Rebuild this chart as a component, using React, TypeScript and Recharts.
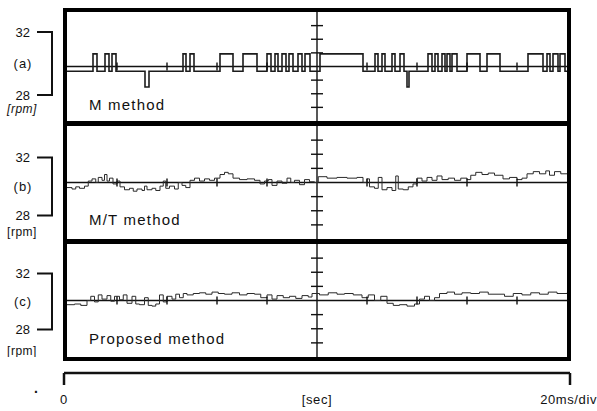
import React from "react";
import { ComposedChart, Line, ReferenceLine, Scatter, XAxis, YAxis } from "recharts";

const FONT = '"Liberation Sans", Arial, Helvetica, sans-serif';
const INK = "#111";

// time base: 10 divisions of 20 ms
const timeDomain: [number, number] = [0, 200];
const divisionMarks = [20, 40, 60, 80, 120, 140, 160, 180];
const gratSteps = [-3, -2, -1, 1, 2, 3];
const rpmTicks = [28, 30, 32];
const timeAxisTicks = [0, 100, 200];
const timeAxisLabels = ["0", "[sec]", "20ms/div"];
const panelLabels = ["(a)", "(b)", "(c)"];
const methodNames = ["M method", "M/T method", "Proposed method"];

// (a) M method
const mTime = [
  0, 10.4, 12, 15.2, 16.8, 18, 19.6, 31.2,
  32.8, 46.4, 47.6, 49.2, 50.8, 61.2, 66.4, 70.4,
  76, 80, 81.6, 83.2, 84.4, 86, 87.6, 88.8,
  90.4, 92.4, 94, 95.2, 97.2, 101.2, 118.4, 123.2,
  124.4, 126, 127.2, 130, 131.2, 133.2, 134.8, 136,
  136.8, 144.4, 146, 147.2, 148.4, 150, 151.2, 152,
  153.2, 154, 156, 160, 165.2, 168, 173.2, 184.4,
  190.4, 192, 193.2, 194.4, 196.4, 197.2, 199.2, 200,
];
const mRpm = [
  29.7, 30.8, 29.7, 30.8, 29.7, 30.8, 29.7, 28.7,
  29.7, 30.8, 29.7, 30.8, 29.7, 30.8, 29.7, 30.8,
  29.7, 30.8, 29.7, 30.8, 29.7, 30.8, 29.7, 30.8,
  29.7, 30.8, 29.7, 30.8, 29.7, 30.8, 29.7, 30.8,
  29.7, 30.8, 29.7, 30.8, 29.7, 30.8, 29.7, 28.7,
  29.7, 30.8, 29.7, 30.8, 29.7, 30.8, 29.7, 30.8,
  29.7, 30.8, 29.7, 30.8, 29.7, 30.8, 29.7, 30.8,
  29.7, 30.8, 29.7, 30.8, 29.7, 30.8, 29.7, 29.7,
];

// (b) M/T method
const mtTime = [
  0, 2, 3.5, 5, 7, 8.5, 10, 11.5, 12.5, 14,
  15, 16, 17, 18.4, 20, 21.2, 23, 25, 26.5, 28,
  30, 31, 32, 34, 35.5, 37.2, 38.5, 39.5, 41, 43,
  44.5, 46, 47.5, 49.2, 51, 53, 55, 57, 59, 61.2,
  63, 64.5, 66.4, 69, 72, 75, 77.2, 79, 80.5, 82,
  84, 86, 88, 89.5, 91, 93, 95, 97, 99, 100.5,
  104, 108, 112, 116, 118.4, 120, 121, 123, 124.5, 126,
  128, 130, 131.5, 132.5, 134.5, 136.5, 138.4, 140, 142, 144,
  146, 148, 150, 152.5, 155, 157.5, 160, 161.5, 163.5, 166,
  168.5, 171, 174.4, 177, 180, 182, 184, 186.5, 189, 191.5,
  193, 195, 197.5, 200,
];
const mtRpm = [
  29.65, 29.55, 29.7, 29.6, 29.75, 30.1, 30.25, 30.0, 30.35, 30.15,
  30.55, 30.1, 30.3, 29.9, 30.1, 29.7, 29.5, 29.6, 29.4, 29.55,
  29.45, 29.75, 29.5, 29.6, 29.45, 29.75, 30.1, 29.6, 29.75, 29.55,
  30.0, 29.8, 29.65, 30.15, 30.3, 30.1, 30.25, 30.15, 30.3, 30.55,
  30.7, 30.6, 30.3, 30.2, 30.25, 30.15, 29.9, 30.1, 30.2, 29.8,
  30.1, 29.95, 30.3, 30.0, 30.15, 29.85, 30.2, 30.05, 30.0, 30.4,
  30.3, 30.35, 30.3, 30.35, 30.0, 30.25, 29.7, 29.6, 30.35, 29.5,
  29.65, 29.45, 30.45, 29.55, 29.5, 29.7, 29.9, 30.3, 30.1, 30.35,
  30.15, 30.45, 30.2, 30.3, 30.15, 30.3, 30.2, 30.5, 30.7, 30.55,
  30.65, 30.5, 30.25, 30.35, 30.2, 30.3, 30.6, 30.75, 30.6, 30.8,
  30.5, 30.75, 30.6, 30.6,
];

// (c) Proposed method
const pTime = [
  0, 3, 5.5, 8, 9.5, 11, 12.5, 14, 16, 17.5,
  19, 21, 22.5, 24, 26, 27.5, 29, 31, 32.5, 34,
  35.5, 37, 38.5, 40, 42, 43.5, 45, 46.5, 48, 50.5,
  53, 55.5, 58, 60.5, 63, 66, 69, 72, 75, 77.5,
  80, 82, 84, 86.5, 89, 91.5, 94, 96.5, 98, 101,
  104.5, 108, 111, 114.5, 118, 120.5, 123, 125.5, 128, 130.5,
  133, 136, 139, 141, 143, 145, 147, 149, 152, 155,
  158, 161.5, 165, 168.5, 172, 175, 178.5, 182, 185.5, 189,
  192.5, 196, 200,
];
const pRpm = [
  29.7, 29.75, 29.65, 30.0, 30.3, 29.9, 30.4, 30.1, 30.35, 29.95,
  30.3, 30.05, 30.4, 29.8, 30.3, 29.75, 29.7, 30.2, 29.65, 29.6,
  29.75, 30.4, 29.9, 30.3, 30.1, 30.45, 30.2, 30.5, 30.4, 30.5,
  30.55, 30.45, 30.6, 30.5, 30.45, 30.55, 30.4, 30.5, 30.45, 30.2,
  30.4, 30.1, 30.35, 30.2, 30.3, 30.15, 30.35, 30.25, 30.5, 30.4,
  30.55, 30.45, 30.5, 30.4, 30.2, 30.4, 30.0, 30.3, 29.8, 29.65,
  29.7, 29.6, 29.75, 30.1, 30.3, 30.0, 30.2, 30.5, 30.6, 30.45,
  30.55, 30.5, 30.6, 30.45, 30.45, 30.3, 30.5, 30.4, 30.55, 30.45,
  30.6, 30.5, 30.55,
];

const seriesTimes = [mTime, mtTime, pTime];
const seriesRpm = [mRpm, mtRpm, pRpm];

// layout of the three scope panels (page coordinates)
const panelLayout = [
  { top: 12, height: 109, pxPerRpm: 15.75, nudge: -3, unitDy: 18, italicUnit: true, lineWidth: 1.6, stroke: "#1c1c1c", nameTop: 97 },
  { top: 126, height: 113, pxPerRpm: 14.5, nudge: 4, unitDy: 20, italicUnit: false, lineWidth: 1, stroke: "#2a2a2a", nameTop: 212 },
  { top: 244, height: 113, pxPerRpm: 14, nudge: 1, unitDy: 25, italicUnit: false, lineWidth: 1, stroke: "#2a2a2a", nameTop: 331 },
];

function Panel({ idx }: { idx: number }) {
  const p = panelLayout[idx];
  const half = p.height / 2 / p.pxPerRpm;
  const div = half / 4;
  const rows = seriesTimes[idx].map((t, i) => ({ t, v: seriesRpm[idx][i] }));
  const hMarks = divisionMarks.map((t) => ({ t, v: 30 }));
  const vMarks = gratSteps.map((k) => ({ t: 100, v: 30 + k * div }));
  const bracket = 4 * p.pxPerRpm;

  const renderTick = (props: any) => {
    const { y, payload } = props;
    const yy = y + p.nudge;
    const txt = { fontFamily: FONT, fontSize: 13, fill: INK };
    if (payload.value === 30) {
      return (
        <text x={23} y={yy + 4} textAnchor="middle" letterSpacing={1} {...txt}>
          {panelLabels[idx]}
        </text>
      );
    }
    const isTop = payload.value === 32;
    return (
      <g>
        <text x={30} y={yy + 4.5} textAnchor="end" {...txt}>
          {payload.value}
        </text>
        <line x1={37} x2={53} y1={yy} y2={yy} stroke={INK} strokeWidth={2} />
        {isTop && <line x1={52} x2={52} y1={yy} y2={yy + bracket} stroke={INK} strokeWidth={2} />}
        {!isTop && (
          <text
            x={22}
            y={yy + p.unitDy}
            textAnchor="middle"
            fontStyle={p.italicUnit ? "italic" : "normal"}
            letterSpacing={0.5}
            {...txt}
            fontSize={12}
          >
            [rpm]
          </text>
        )}
      </g>
    );
  };

  return (
    <div style={{ position: "absolute", left: 0, top: p.top }}>
      <ComposedChart width={597} height={p.height} margin={{ top: 0, right: 30, bottom: 0, left: 0 }}>
        <XAxis type="number" dataKey="t" domain={timeDomain} hide allowDataOverflow />
        <YAxis
          type="number"
          dataKey="v"
          domain={[30 - half, 30 + half]}
          ticks={rpmTicks}
          interval={0}
          width={67}
          axisLine={false}
          tickLine={false}
          tick={renderTick}
          allowDataOverflow
        />
        <ReferenceLine y={30} stroke={INK} strokeWidth={1.4} />
        <ReferenceLine x={100} stroke={INK} strokeWidth={1.4} />
        <Scatter
          data={hMarks}
          isAnimationActive={false}
          shape={(s: any) => <line x1={s.cx} x2={s.cx} y1={s.cy - 4} y2={s.cy + 4} stroke={INK} strokeWidth={1.4} />}
        />
        <Scatter
          data={vMarks}
          isAnimationActive={false}
          shape={(s: any) => <line x1={s.cx - 6} x2={s.cx + 6} y1={s.cy} y2={s.cy} stroke={INK} strokeWidth={1.4} />}
        />
        <Line
          data={rows}
          dataKey="v"
          type="stepAfter"
          dot={false}
          stroke={p.stroke}
          strokeWidth={p.lineWidth}
          isAnimationActive={false}
        />
      </ComposedChart>
      <div
        style={{
          position: "absolute",
          left: 89,
          top: p.nameTop - p.top,
          fontFamily: FONT,
          fontSize: 15,
          lineHeight: "15px",
          letterSpacing: 1.2,
          color: INK,
          whiteSpace: "nowrap",
        }}
      >
        {methodNames[idx]}
      </div>
    </div>
  );
}

function TimeAxis() {
  const rows = timeAxisTicks.map((t) => ({ t }));
  const renderTick = (props: any) => {
    const { x, payload, index } = props;
    const last = index === timeAxisTicks.length - 1;
    const end = payload.value !== 100;
    return (
      <g>
        {end && <line x1={x} x2={x} y1={13} y2={25} stroke={INK} strokeWidth={2.5} />}
        <text
          x={last ? x + 27 : x}
          y={44}
          textAnchor={last ? "end" : "middle"}
          fontFamily={FONT}
          fontSize={13}
          letterSpacing={0.6}
          fill={INK}
        >
          {timeAxisLabels[index]}
        </text>
      </g>
    );
  };
  return (
    <div style={{ position: "absolute", left: 0, top: 360 }}>
      <ComposedChart width={597} height={51} data={rows} margin={{ top: 12, right: 27, bottom: 0, left: 64 }}>
        <XAxis
          type="number"
          dataKey="t"
          domain={timeDomain}
          ticks={timeAxisTicks}
          interval={0}
          height={38}
          axisLine={{ stroke: INK, strokeWidth: 2.5 }}
          tickLine={false}
          tick={renderTick}
          allowDataOverflow
        />
      </ComposedChart>
    </div>
  );
}

const bar = (left: number, top: number, width: number, height: number) => (
  <div style={{ position: "absolute", left, top, width, height, background: "#000" }} />
);

export default function App() {
  return (
    <div style={{ position: "absolute", left: 0, top: 0, width: 597, height: 411, background: "#fff", overflow: "hidden" }}>
      {[0, 1, 2].map((i) => (
        <Panel key={i} idx={i} />
      ))}
      {bar(63, 8, 508, 4)}
      {bar(63, 121, 508, 5)}
      {bar(63, 239, 508, 5)}
      {bar(63, 357, 508, 4)}
      {bar(63, 8, 4, 353)}
      {bar(567, 8, 4, 353)}
      <TimeAxis />
      <div style={{ position: "absolute", left: 34, top: 380, fontFamily: FONT, fontSize: 14, fontWeight: "bold", color: INK }}>.</div>
    </div>
  );
}
